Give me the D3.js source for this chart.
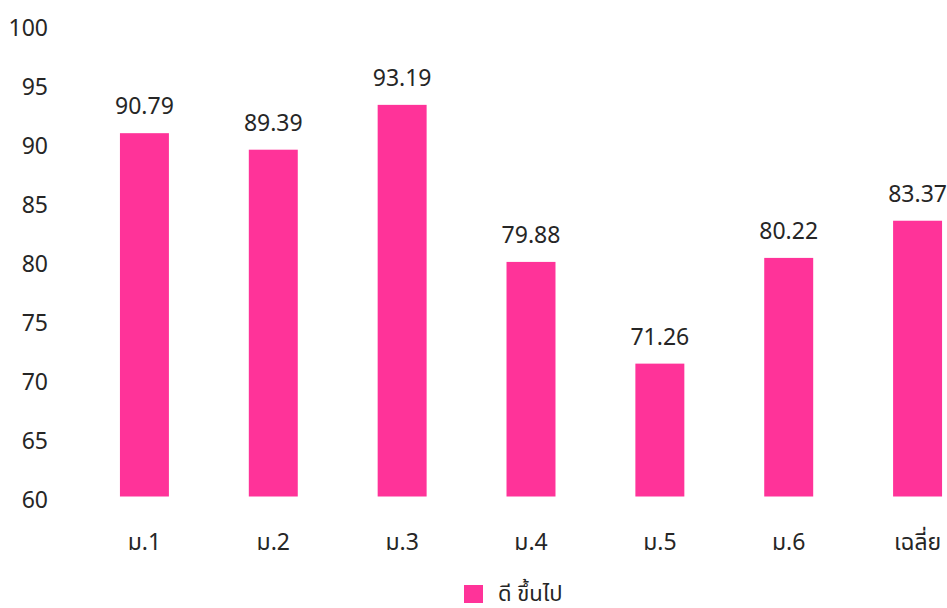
<!DOCTYPE html>
<html>
<head>
<meta charset="utf-8">
<script src="https://cdn.jsdelivr.net/npm/d3@7"></script>
<style>
  body { margin: 0; background: #fff; }
  text { font-family: "Noto Sans", "Noto Sans Thai", Tahoma, sans-serif; fill: #262626; }
</style>
</head>
<body>
<div id="chart"></div>
<script>
const categories = ["ม.1", "ม.2", "ม.3", "ม.4", "ม.5", "ม.6", "เฉลี่ย"];
const values = [90.79, 89.39, 93.19, 79.88, 71.26, 80.22, 83.37];
const yTicks = [60, 65, 70, 75, 80, 85, 90, 95, 100];
const seriesName = "ดี ขึ้นไป";

const width = 947, height = 608;
const barColor = "#FF3399";

const svg = d3.select("#chart")
    .append("svg")
    .attr("width", width)
    .attr("height", height);

const x = d3.scaleBand()
    .domain(categories)
    .range([80, 982])
    .paddingInner(0.62)
    .paddingOuter(0.31);

const y = d3.scaleLinear()
    .domain([60, 100])
    .range([496.5, 24.5]);

// y axis labels, no line
const yAxis = svg.append("g")
    .attr("transform", "translate(48,4)")
    .call(d3.axisLeft(y).tickValues(yTicks).tickSize(0).tickPadding(0));
yAxis.select(".domain").remove();
yAxis.selectAll("text")
    .style("font-size", "23px")
    .attr("fill", "#262626");

// bars
svg.selectAll(".bar")
    .data(values)
    .enter()
    .append("rect")
    .attr("class", "bar")
    .attr("x", (d, i) => x(categories[i]))
    .attr("y", d => y(d))
    .attr("width", x.bandwidth())
    .attr("height", d => y(60) - y(d))
    .attr("fill", barColor);

// value labels
svg.selectAll(".val")
    .data(values)
    .enter()
    .append("text")
    .attr("class", "val")
    .attr("x", (d, i) => x(categories[i]) + x.bandwidth() / 2)
    .attr("y", d => y(d) - 19)
    .attr("text-anchor", "middle")
    .style("font-size", "23px")
    .text(d => d.toFixed(2));

// x labels
svg.selectAll(".cat")
    .data(categories)
    .enter()
    .append("text")
    .attr("class", "cat")
    .attr("x", d => x(d) + x.bandwidth() / 2)
    .attr("y", 550)
    .attr("text-anchor", "middle")
    .style("font-size", "23px")
    .text(d => d);

// legend
const legend = svg.append("g").attr("transform", "translate(464,585)");
legend.append("rect")
    .attr("width", 19)
    .attr("height", 18)
    .attr("fill", barColor);
legend.append("text")
    .attr("x", 34)
    .attr("y", 16)
    .style("font-size", "22px")
    .text(seriesName);
</script>
</body>
</html>
